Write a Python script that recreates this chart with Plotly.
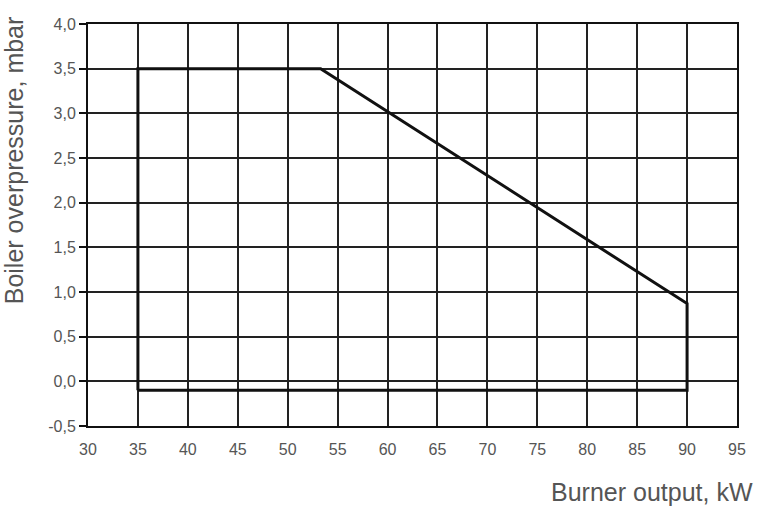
import plotly.graph_objects as go

# Working field boundary (burner output kW, boiler overpressure mbar)
field_x = [35, 35, 53.3, 90, 90, 35]
field_y = [-0.1, 3.5, 3.5, 0.87, -0.1, -0.1]

x_ticks = [30, 35, 40, 45, 50, 55, 60, 65, 70, 75, 80, 85, 90, 95]
y_ticks = [-0.5, 0.0, 0.5, 1.0, 1.5, 2.0, 2.5, 3.0, 3.5, 4.0]
y_tick_labels = ["-0,5", "0,0", "0,5", "1,0", "1,5", "2,0", "2,5", "3,0", "3,5", "4,0"]

fig = go.Figure()
fig.add_trace(go.Scatter(x=field_x, y=field_y, mode="lines",
                         line=dict(color="#111111", width=3), hoverinfo="skip",
                         showlegend=False))

font_col = "#555555"
fig.update_layout(
    width=760, height=506,
    margin=dict(l=88, r=23, t=24, b=80),
    paper_bgcolor="white", plot_bgcolor="white",
    font=dict(family="Liberation Sans, Arial", color=font_col, size=16),
    xaxis=dict(range=[30, 95], tickvals=x_ticks, showgrid=True,
               gridcolor="#222222", gridwidth=2, zeroline=False,
               showline=True, linecolor="#111111", linewidth=2, mirror=True,
               ticks="", ticklabelstandoff=8),
    yaxis=dict(range=[-0.5, 4.0], tickvals=y_ticks, ticktext=y_tick_labels,
               showgrid=True, gridcolor="#222222", gridwidth=2, zeroline=False,
               showline=True, linecolor="#111111", linewidth=2, mirror=True,
               ticks="outside", ticklen=7, tickcolor="#111111", tickwidth=2),
    annotations=[
        dict(text="Burner output, kW", xref="paper", yref="paper",
             x=1.028, y=-0.125, xanchor="right", yanchor="top", showarrow=False,
             font=dict(size=25, color=font_col)),
        dict(text="Boiler overpressure, mbar", xref="paper", yref="paper",
             x=-0.09, y=0.66, xanchor="right", yanchor="middle", textangle=-90,
             showarrow=False, font=dict(size=25, color=font_col)),
    ],
)
fig.write_html("out.html", config={"displayModeBar": False},
               post_script="document.body.style.margin='0';")
